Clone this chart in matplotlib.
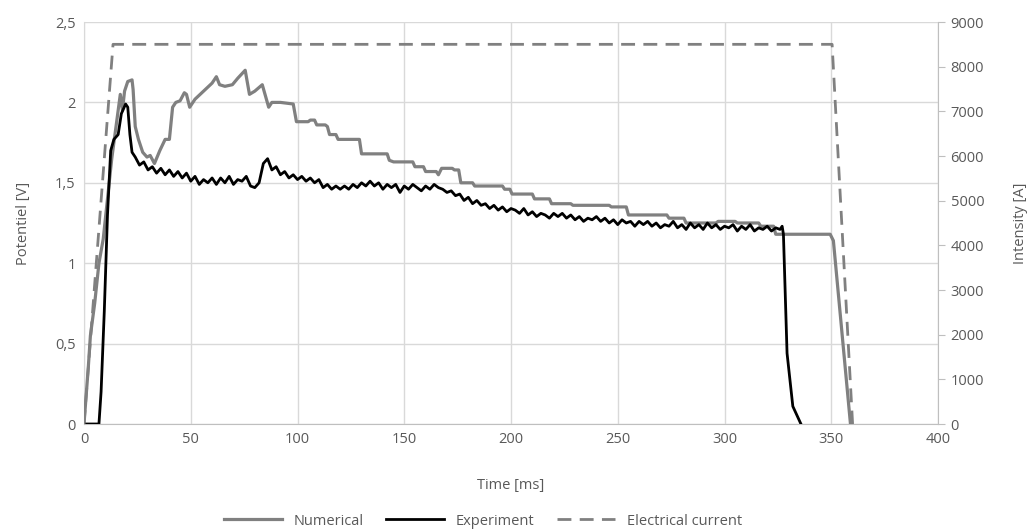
import numpy as np
import matplotlib.pyplot as plt
from matplotlib.ticker import FuncFormatter

plt.rcParams['font.family'] = ['Open Sans', 'DejaVu Sans']

# Numerical potential [V] (stepped simulation output)
num_t = [0, 2, 3, 5, 7, 9, 11, 13, 15, 17, 18, 19, 20.5, 22.5, 23, 24, 25.5, 27.5,
         29.5, 31, 33, 35.5, 38, 40, 41.5, 43, 45, 47, 48, 49.5, 52, 56, 60, 62,
         63.5, 66, 69.5, 72, 75.5, 77.5, 80, 83.5, 86.5, 88, 92, 98, 99.5, 105,
         106, 108, 109, 113, 114, 115, 118, 119, 129, 130, 142, 143, 145, 154,
         155, 159, 160, 165, 166, 167.5, 172.5, 173.5, 175.5, 176.5, 182, 183,
         196, 197, 199.5, 200.5, 210, 211, 218, 219, 228, 229, 246, 247, 254,
         255, 273, 274, 281, 282, 296, 297, 305, 306, 316, 317, 323, 324, 349.5,
         351, 359]
num_v = [0, 0.35, 0.55, 0.75, 1.0, 1.15, 1.40, 1.65, 1.85, 2.05, 1.95, 2.07, 2.13,
         2.14, 2.08, 1.85, 1.77, 1.69, 1.66, 1.67, 1.62, 1.70, 1.77, 1.77, 1.97,
         2.00, 2.01, 2.06, 2.05, 1.97, 2.02, 2.07, 2.12, 2.16, 2.11, 2.10, 2.11,
         2.15, 2.20, 2.05, 2.07, 2.11, 1.97, 2.00, 2.00, 1.99, 1.88, 1.88,
         1.89, 1.89, 1.86, 1.86, 1.85, 1.80, 1.80, 1.77, 1.77, 1.68, 1.68, 1.64,
         1.63, 1.63, 1.60, 1.60, 1.57, 1.57, 1.55, 1.59, 1.59, 1.58, 1.58, 1.50,
         1.50, 1.48, 1.48, 1.46, 1.46, 1.43, 1.43, 1.40, 1.40, 1.37, 1.37, 1.36,
         1.36, 1.35, 1.35, 1.30, 1.30, 1.28, 1.28, 1.25, 1.25, 1.26, 1.26, 1.25,
         1.25, 1.23, 1.23, 1.18, 1.18,
         1.14, 0]

# Experiment potential [V]
exp_rise_t = [0, 7, 8, 9.5, 11, 12.5, 14, 16, 17.5, 19.5, 20.5, 21.5, 22.5]
exp_rise_v = [0, 0, 0.2, 0.7, 1.3, 1.7, 1.77, 1.80, 1.93, 1.99, 1.97, 1.80, 1.69]
exp_mid_t = np.arange(24, 327, 2)
exp_mid_v = [1.66, 1.61, 1.63, 1.58, 1.60, 1.56, 1.59, 1.55, 1.58, 1.54,
             1.57, 1.53, 1.56, 1.51, 1.54, 1.49, 1.52, 1.50, 1.53, 1.49,
             1.53, 1.50, 1.54, 1.49, 1.52, 1.51, 1.54, 1.48, 1.47, 1.50,
             1.62, 1.65, 1.58, 1.60, 1.55, 1.57, 1.53, 1.55, 1.52, 1.54,
             1.51, 1.53, 1.50, 1.52, 1.47, 1.49, 1.46, 1.48, 1.46, 1.48,
             1.46, 1.49, 1.47, 1.50, 1.48, 1.51, 1.48, 1.50, 1.46, 1.49,
             1.47, 1.49, 1.44, 1.48, 1.46, 1.49, 1.47, 1.45, 1.48, 1.46,
             1.49, 1.47, 1.46, 1.44, 1.45, 1.42, 1.43, 1.39, 1.41, 1.37,
             1.39, 1.36, 1.37, 1.34, 1.36, 1.33, 1.35, 1.32, 1.34, 1.33,
             1.31, 1.34, 1.30, 1.32, 1.29, 1.31, 1.30, 1.28, 1.31, 1.29,
             1.31, 1.28, 1.30, 1.27, 1.29, 1.26, 1.28, 1.27, 1.29, 1.26,
             1.28, 1.25, 1.27, 1.24, 1.27, 1.25, 1.26, 1.23, 1.26, 1.24,
             1.26, 1.23, 1.25, 1.22, 1.24, 1.23, 1.26, 1.22, 1.24, 1.21,
             1.25, 1.22, 1.24, 1.21, 1.25, 1.22, 1.24, 1.21, 1.23, 1.22,
             1.24, 1.20, 1.23, 1.21, 1.24, 1.20, 1.22, 1.21, 1.23, 1.20,
             1.22, 1.21]
exp_end_t = [327, 327.6, 329.3, 332, 335.8]
exp_end_v = [1.23, 1.18, 0.44, 0.11, 0]

# Electrical current [A]
cur_t = [0, 13.6, 350.4, 360]
cur_i = [0, 8500, 8500, 0]

exp_t = np.concatenate([exp_rise_t, exp_mid_t, exp_end_t])
exp_v = np.concatenate([exp_rise_v, exp_mid_v, exp_end_v])

fig = plt.figure(figsize=(10.34, 5.30), dpi=100)
ax = fig.add_axes([84 / 1034, 1 - 424 / 530, 854 / 1034, 402 / 530])
ax2 = ax.twinx()

grid_c = '#d9d9d9'
text_c = '#595959'
fs = 10.5
dash = (0, (5, 3))

ax.plot(num_t, num_v, color='#808080', lw=2.3, solid_joinstyle='round', zorder=3)
ax.plot(exp_t, exp_v, color='black', lw=2.0, solid_joinstyle='round', zorder=4)
ax2.plot(cur_t, cur_i, color='#808080', lw=2.0, ls=dash)

ax.set_xlim(0, 400)
ax.set_ylim(0, 2.5)
ax.set_xticks(np.arange(0, 401, 50))
ax.set_yticks(np.arange(0, 2.51, 0.5))
ax.yaxis.set_major_formatter(FuncFormatter(lambda v, p: f'{v:g}'.replace('.', ',')))
ax.grid(True, color=grid_c, lw=1)
ax.set_axisbelow(True)
ax.tick_params(axis='both', length=0, colors=text_c, labelsize=fs, pad=6)

ax2.set_ylim(0, 9000)
ax2.set_yticks(np.arange(0, 9001, 1000))
ax2.tick_params(axis='y', direction='out', length=5, color='#bfbfbf',
                labelcolor=text_c, labelsize=fs, pad=4)

for a in (ax, ax2):
    for s in a.spines.values():
        s.set_visible(False)
ax.spines['bottom'].set_visible(True)
ax.spines['bottom'].set_color('#bfbfbf')
ax.spines['left'].set_visible(True)
ax.spines['left'].set_color(grid_c)
ax2.spines['right'].set_visible(True)
ax2.spines['right'].set_color('#bfbfbf')

ax.set_xlabel('Time [ms]', color=text_c, fontsize=fs, labelpad=22)
ax.set_ylabel('Potentiel [V]', color=text_c, fontsize=fs, labelpad=17)
ax2.set_ylabel('Intensity [A]', color=text_c, fontsize=fs, labelpad=21)

h1, = ax.plot([], [], color='#808080', lw=2.3)
h2, = ax.plot([], [], color='black', lw=2.0)
h3, = ax2.plot([], [], color='#808080', lw=2.0, ls=dash)
fig.legend([h1, h2, h3], ['Numerical', 'Experiment', 'Electrical current'],
           loc='lower center', bbox_to_anchor=(0.467, -0.022), ncol=3, frameon=False,
           fontsize=fs, labelcolor=text_c, handlelength=4, columnspacing=1.5,
           handletextpad=0.8)

fig.savefig('out.png', dpi=100)
